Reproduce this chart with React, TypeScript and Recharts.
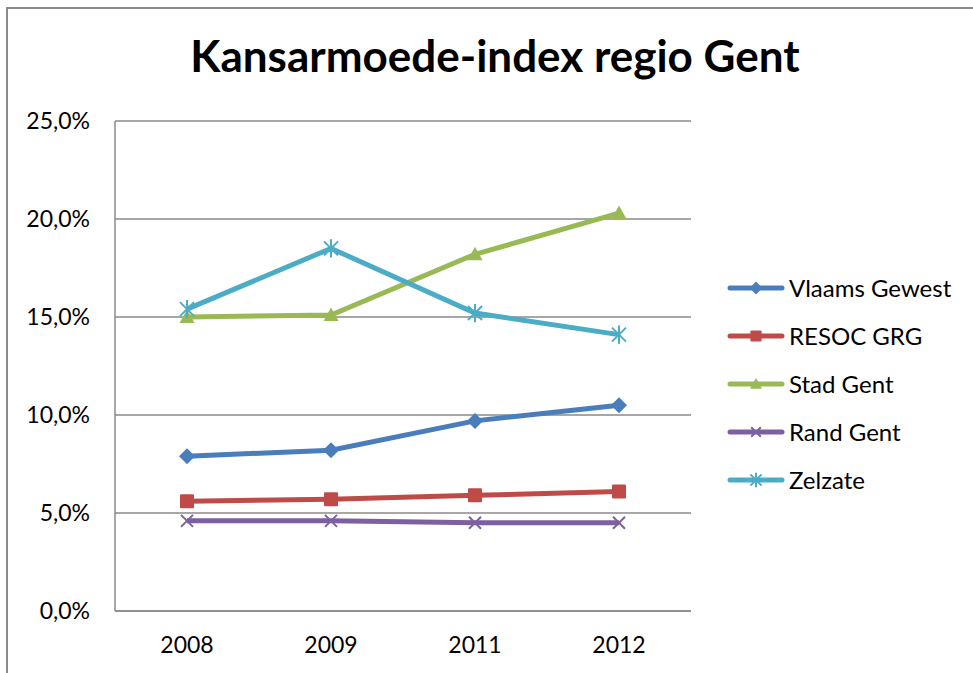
import React from 'react';
import { LineChart, Line, XAxis, YAxis, CartesianGrid, Legend } from 'recharts';

// Kansarmoede-index per regio, percentages
const years = ['2008', '2009', '2011', '2012'];
const vlaamsGewest = [7.9, 8.2, 9.7, 10.5];
const resocGrg = [5.6, 5.7, 5.9, 6.1];
const stadGent = [15.0, 15.1, 18.2, 20.3];
const randGent = [4.6, 4.6, 4.5, 4.5];
const zelzate = [15.4, 18.5, 15.2, 14.1];
const yTicks = [0, 5, 10, 15, 20, 25];

const data = years.map((year, i) => ({
  year,
  vlaams: vlaamsGewest[i],
  resoc: resocGrg[i],
  stad: stadGent[i],
  rand: randGent[i],
  zelzate: zelzate[i],
}));

const series = [
  { key: 'vlaams', name: 'Vlaams Gewest', color: '#4A7EBB', marker: 'diamond' },
  { key: 'resoc', name: 'RESOC GRG', color: '#BE4B48', marker: 'square' },
  { key: 'stad', name: 'Stad Gent', color: '#98B954', marker: 'triangle' },
  { key: 'rand', name: 'Rand Gent', color: '#7D60A0', marker: 'x' },
  { key: 'zelzate', name: 'Zelzate', color: '#4BACC6', marker: 'star' },
];

const FONT = 'Lato, "Open Sans", sans-serif';
const GRID = '#8a8a8a';

function Marker({ cx, cy, type, color, s = 1 }: any) {
  if (cx == null || cy == null) return null;
  if (type === 'diamond') {
    const r = 8 * s;
    return <polygon points={`${cx},${cy - r} ${cx + r},${cy} ${cx},${cy + r} ${cx - r},${cy}`} fill={color} />;
  }
  if (type === 'square') {
    const r = 7 * s;
    return <rect x={cx - r} y={cy - r} width={2 * r} height={2 * r} rx={1} fill={color} />;
  }
  if (type === 'triangle') {
    const r = 7.5 * s;
    return <polygon points={`${cx},${cy - r} ${cx + r},${cy + r * 0.8} ${cx - r},${cy + r * 0.8}`} fill={color} />;
  }
  if (type === 'x') {
    const r = 6 * s;
    return (
      <g stroke={color} strokeWidth={2}>
        <line x1={cx - r} y1={cy - r} x2={cx + r} y2={cy + r} />
        <line x1={cx - r} y1={cy + r} x2={cx + r} y2={cy - r} />
      </g>
    );
  }
  const r = 7 * s;
  return (
    <g stroke={color} strokeWidth={2}>
      <line x1={cx - r} y1={cy - r} x2={cx + r} y2={cy + r} />
      <line x1={cx - r} y1={cy + r} x2={cx + r} y2={cy - r} />
      <line x1={cx} y1={cy - r * 1.3} x2={cx} y2={cy + r * 1.3} />
    </g>
  );
}

function LegendBox() {
  return (
    <div style={{ fontFamily: FONT, fontSize: 24, color: '#000' }}>
      {series.map((s) => (
        <div key={s.key} style={{ display: 'flex', alignItems: 'center', height: 48 }}>
          <svg width={62} height={24} style={{ display: 'block' }}>
            <line x1={3} y1={12} x2={55} y2={12} stroke={s.color} strokeWidth={5} strokeLinecap="round" />
            <Marker cx={29} cy={12} type={s.marker} color={s.color} s={0.8} />
          </svg>
          <span style={{ lineHeight: '24px' }}>{s.name}</span>
        </div>
      ))}
    </div>
  );
}

const fmt = (v: number) => `${v.toFixed(1).replace('.', ',')}%`;

export default function App() {
  return (
    <div style={{ position: 'absolute', left: 0, top: 0, width: 973, height: 673, background: '#fff', overflow: 'hidden' }}>
      <div style={{ position: 'absolute', left: 6, top: 7, width: 1000, height: 700, borderTop: `2px solid ${GRID}`, borderLeft: `2px solid ${GRID}` }} />
      <div style={{ position: 'absolute', left: 0, top: 29, width: 990, textAlign: 'center', fontFamily: FONT, fontWeight: 700, fontSize: 44, color: '#000' }}>
        Kansarmoede-index regio Gent
      </div>
      <LineChart width={973} height={673} data={data} margin={{ top: 121, right: 282, bottom: 0, left: 0 }}>
        <CartesianGrid vertical={false} stroke={GRID} strokeWidth={1.5} />
        <XAxis
          dataKey="year"
          height={62}
          padding={{ left: 72, right: 72 }}
          axisLine={{ stroke: GRID, strokeWidth: 1.5 }}
          tickLine={false}
          tickSize={0}
          tickMargin={26}
          tick={{ fill: '#000', fontSize: 23, fontFamily: FONT }}
        />
        <YAxis
          width={115}
          domain={[0, 25]}
          ticks={yTicks}
          tickFormatter={fmt}
          axisLine={{ stroke: GRID, strokeWidth: 1.5 }}
          tickLine={false}
          tickSize={0}
          tickMargin={25}
          tick={{ fill: '#000', fontSize: 23, fontFamily: FONT }}
        />
        <Legend
          layout="vertical"
          align="center"
          verticalAlign="middle"
          content={() => <LegendBox />}
          wrapperStyle={{ left: 727, top: 264, width: 246 }}
        />
        {series.map((s) => (
          <Line
            key={s.key}
            dataKey={s.key}
            name={s.name}
            stroke={s.color}
            strokeWidth={5}
            isAnimationActive={false}
            dot={(p: any) => <Marker key={`${s.key}-${p.index}`} cx={p.cx} cy={p.cy} type={s.marker} color={s.color} />}
            activeDot={false}
          />
        ))}
      </LineChart>
    </div>
  );
}
